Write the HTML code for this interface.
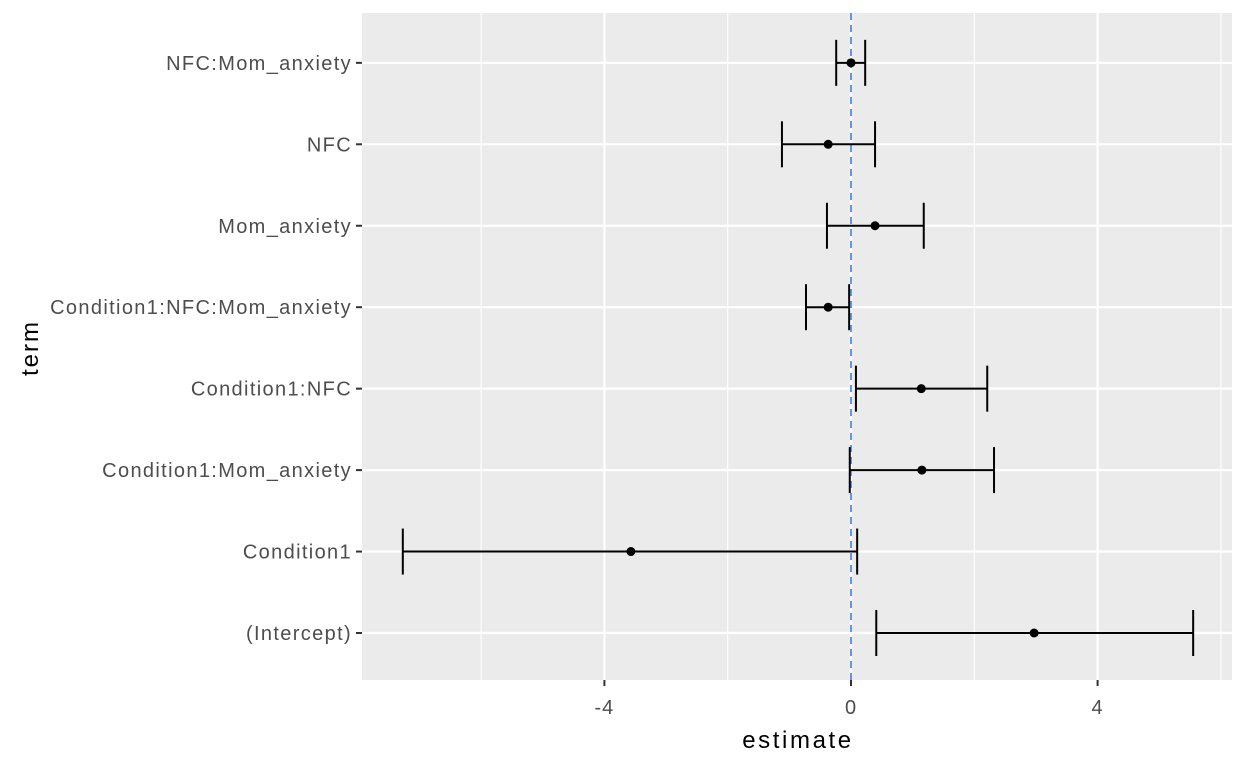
<!DOCTYPE html>
<html><head><meta charset="utf-8"><style>
body{margin:0;background:#fff;font-family:"Liberation Sans",Arial,sans-serif}
svg text{font-family:"Liberation Sans",Arial,sans-serif}
</style></head><body>
<svg id="chart" width="1248" height="768"></svg>
<script>
const terms=["(Intercept)","Condition1","Condition1:Mom_anxiety","Condition1:NFC","Condition1:NFC:Mom_anxiety","Mom_anxiety","NFC","NFC:Mom_anxiety"];
const estimates=[2.97,-3.57,1.15,1.14,-0.37,0.39,-0.37,0.0];
const lowers=[0.41,-7.27,-0.02,0.08,-0.73,-0.39,-1.12,-0.24];
const uppers=[5.55,0.10,2.32,2.21,-0.03,1.18,0.39,0.23];
const majorTicks=[-4,0,4];
const minorTicks=[-6,-2,2,6];
const tickLabels=["-4","0","4"];

const NS="http://www.w3.org/2000/svg";
const svg=document.getElementById('chart');
const L=362,R=1232,T=13,B=680;
const x=v=>851+v*61.65;
const y=i=>633-i*81.45;
function mk(tag,a,parent){const e=document.createElementNS(NS,tag);for(const k in a)e.setAttribute(k,a[k]);(parent||svg).appendChild(e);return e;}
const panel=mk('rect',{x:L,y:T,width:R-L,height:B-T,fill:'#ebebeb'});


minorTicks.forEach(v=>{const l=mk('line',{x1:x(v),x2:x(v),y1:T,y2:B,stroke:'#fff','stroke-width':1.1});

});
majorTicks.forEach((v,i)=>{const l=mk('line',{x1:x(v),x2:x(v),y1:T,y2:B,stroke:'#fff','stroke-width':2.2});


const t=mk('line',{x1:x(v),x2:x(v),y1:B,y2:B+6,stroke:'#333','stroke-width':2});


const tx=mk('text',{x:x(v),y:714,'text-anchor':'middle','font-size':20,'letter-spacing':1,fill:'#4d4d4d'});tx.textContent=tickLabels[i];

});
terms.forEach((t,i)=>{const l=mk('line',{x1:L,x2:R,y1:y(i),y2:y(i),stroke:'#fff','stroke-width':2.2});


const tk=mk('line',{x1:L-6,x2:L,y1:y(i),y2:y(i),stroke:'#333','stroke-width':2});


const tx=mk('text',{x:L-10,y:y(i)+7,'text-anchor':'end','font-size':20,'letter-spacing':1.35,fill:'#4d4d4d'});tx.textContent=t;

});
const ref=mk('line',{x1:x(0),x2:x(0),y1:T,y2:B,stroke:'#6495ed','stroke-width':2,'stroke-dasharray':'7,5'});


terms.forEach((t,i)=>{const g=mk('g',{stroke:'#000','stroke-width':2,fill:'none'});


mk('line',{x1:x(lowers[i]),x2:x(uppers[i]),y1:y(i),y2:y(i)},g);
mk('line',{x1:x(lowers[i]),x2:x(lowers[i]),y1:y(i)-23,y2:y(i)+23},g);
mk('line',{x1:x(uppers[i]),x2:x(uppers[i]),y1:y(i)-23,y2:y(i)+23},g);
const c=mk('circle',{cx:x(estimates[i]),cy:y(i),r:4.5,fill:'#000'});

});
const xt=mk('text',{x:798,y:748,'text-anchor':'middle','font-size':24,'letter-spacing':2.6,fill:'#000'});xt.textContent='estimate';


const yt=mk('text',{x:0,y:0,'text-anchor':'middle','font-size':24,'letter-spacing':2,fill:'#000',transform:'translate(38,348) rotate(-90)'});yt.textContent='term';


</script>
</body></html>
